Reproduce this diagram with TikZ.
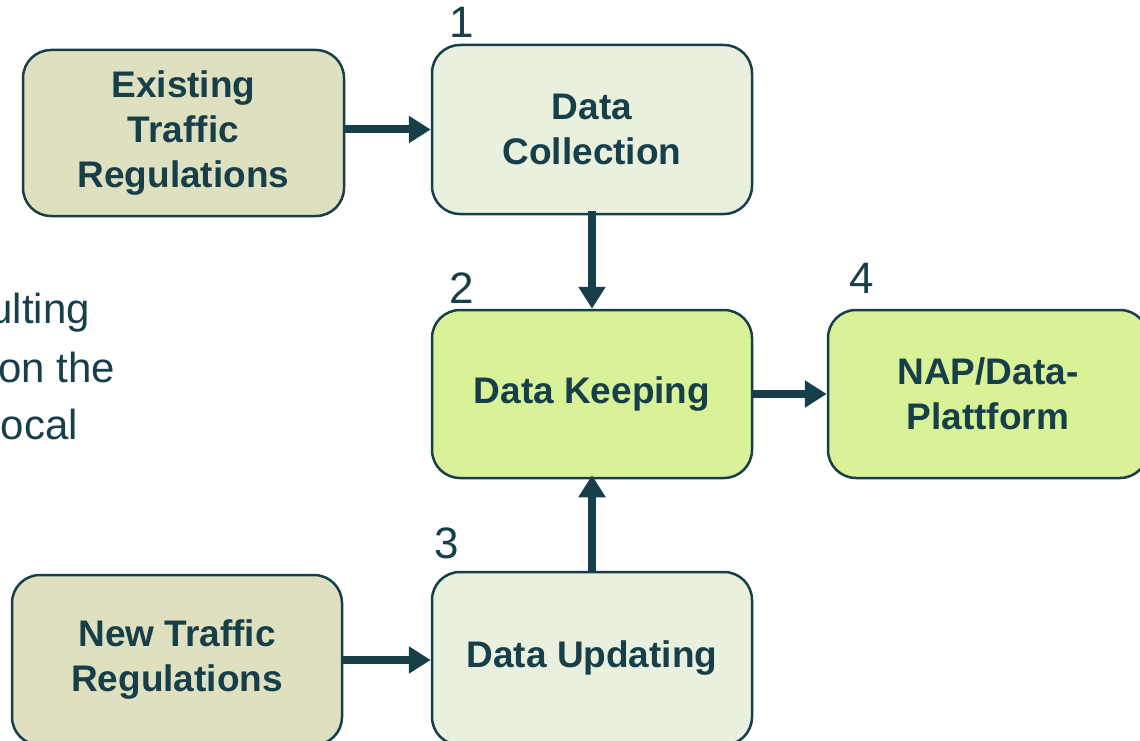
\documentclass[tikz,border=0pt]{standalone}
\usepackage{fontspec}
\setmainfont{Liberation Sans}
\usetikzlibrary{arrows.meta}
\definecolor{ink}{HTML}{173F4A}
\definecolor{tanfill}{HTML}{DEE0C0}
\definecolor{palefill}{HTML}{E9F0DD}
\definecolor{limefill}{HTML}{D9F197}
\tikzset{
  box/.style={draw=ink, line width=2.5pt, rounded corners=28pt, align=center,
    text=ink, font=\fontsize{37}{45}\selectfont\bfseries, inner sep=0pt},
  stepno/.style={text=ink, font=\fontsize{44}{44}\selectfont, inner sep=0pt, anchor=base},
  side/.style={text=ink, font=\fontsize{42}{57}\selectfont, inner sep=0pt, anchor=base east},
  flow/.style={draw=ink, line width=8pt, -{Triangle[length=22pt,width=26pt]}}
}
\begin{document}
\begin{tikzpicture}[x=1pt,y=-1pt]
\useasboundingbox (0,0) rectangle (1140,741);
\clip (0,0) rectangle (1140,741);

% step boxes
\node[box, fill=tanfill, minimum width=321pt, minimum height=166pt] (exist) at (183.5,133) {Existing\\Traffic\\Regulations};
\node[box, fill=palefill, minimum width=320pt, minimum height=169pt] (collect) at (592,129.5) {Data\\Collection};
\node[box, fill=limefill, minimum width=320pt, minimum height=168pt] (keep) at (592,394) {Data Keeping};
\node[box, fill=limefill, minimum width=320pt, minimum height=168pt] (nap) at (988,394) {NAP/Data-\\Plattform};
\node[box, fill=tanfill, minimum width=330pt, minimum height=170pt] (new) at (177,660) {New Traffic\\Regulations};
\node[box, fill=palefill, minimum width=320pt, minimum height=173pt] (update) at (592,658.5) {Data Updating};

% step numbers
\node[stepno] (n1) at (462,38) {1};
\node[stepno] (n2) at (462,303) {2};
\node[stepno] (n3) at (447,558) {3};
\node[stepno] (n4) at (862,293) {4};

% text running in from the left
\node[side] (s1) at (90,323) {ulting};
\node[side] (s2) at (115,382) {on the};
\node[side] (s3) at (78,439) {ocal};

% connectors
\draw[flow] (exist.east |- collect.west) -- (collect.west);
\draw[flow] ([yshift=4pt]collect.south) -- (keep.north);
\draw[flow] (keep.east) -- (nap.west);
\draw[flow] (update.north) -- ([yshift=4pt]keep.south);
\draw[flow] (new.east) -- (update.west |- new.east);
\end{tikzpicture}
\end{document}
